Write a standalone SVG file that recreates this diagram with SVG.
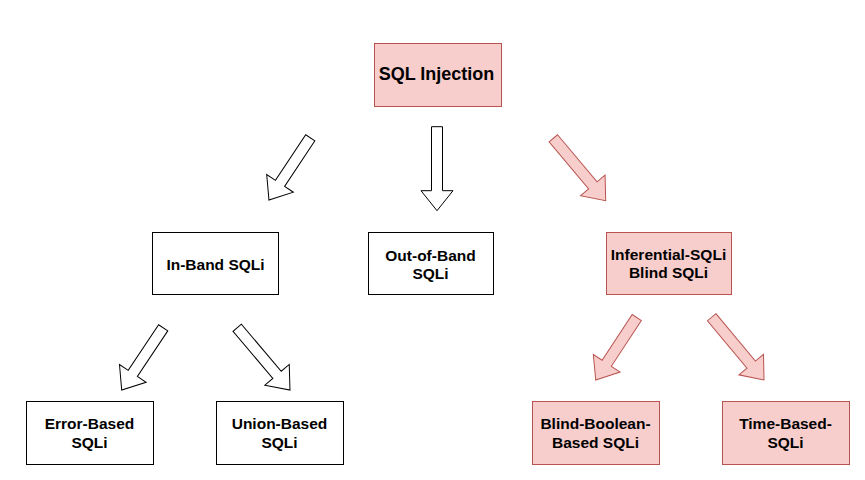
<svg xmlns="http://www.w3.org/2000/svg" width="865" height="480" viewBox="0 0 865 480">
<style>
.w{fill:#ffffff;stroke:#000000;stroke-width:1}
.p{fill:#f8cecc;stroke:#b85450;stroke-width:1}
.t{font-family:"Liberation Sans",Arial,sans-serif;font-weight:bold;font-size:15.5px;fill:#000000;text-anchor:middle}
.big{font-size:18px}
</style>
<rect width="865" height="480" fill="#ffffff"/>
<g id="connectors">
<polygon class="w" points="0,-5.5 54.7,-5.5 54.7,-16 74.7,0 54.7,16 54.7,5.5 0,5.5" transform="translate(310.3,137.8) rotate(123.6)"/>
<polygon class="w" points="0,-5.5 64,-5.5 64,-16 84,0 64,16 64,5.5 0,5.5" transform="translate(437,126.7) rotate(90)"/>
<polygon class="p" points="0,-5.5 61.5,-5.5 61.5,-16 81.5,0 61.5,16 61.5,5.5 0,5.5" transform="translate(553.3,138.3) rotate(50)"/>
<polygon class="w" points="0,-5.5 54.8,-5.5 54.8,-16 74.8,0 54.8,16 54.8,5.5 0,5.5" transform="translate(163.2,327.8) rotate(123.7)"/>
<polygon class="w" points="0,-5.5 61.6,-5.5 61.6,-16 81.6,0 61.6,16 61.6,5.5 0,5.5" transform="translate(237.2,327.8) rotate(49.7)"/>
<polygon class="p" points="0,-5.5 54.8,-5.5 54.8,-16 74.8,0 54.8,16 54.8,5.5 0,5.5" transform="translate(636.8,317.5) rotate(123.3)"/>
<polygon class="p" points="0,-5.5 61.7,-5.5 61.7,-16 81.7,0 61.7,16 61.7,5.5 0,5.5" transform="translate(711.7,317.2) rotate(50.2)"/>
</g>
<g id="sql-injection">
<rect class="p" x="374.5" y="43.5" width="127" height="63"/>
<text class="t big" x="436.5" y="79.5">SQL Injection</text>
</g>
<g id="in-band">
<rect class="w" x="152.5" y="232.5" width="126" height="62"/>
<text class="t" x="215.5" y="270">In-Band SQLi</text>
</g>
<g id="out-of-band">
<rect class="w" x="368.5" y="232.5" width="125" height="62"/>
<text class="t" x="430.5" y="260.5">Out-of-Band</text>
<text class="t" x="430.5" y="279">SQLi</text>
</g>
<g id="inferential">
<rect class="p" x="606.5" y="232.5" width="125" height="62"/>
<text class="t" x="668.5" y="259.5">Inferential-SQLi</text>
<text class="t" x="668.5" y="277.5">Blind SQLi</text>
</g>
<g id="error-based">
<rect class="w" x="26.5" y="401.5" width="127" height="63"/>
<text class="t" x="89.5" y="429">Error-Based</text>
<text class="t" x="89.5" y="448">SQLi</text>
</g>
<g id="union-based">
<rect class="w" x="216.5" y="401.5" width="127" height="63"/>
<text class="t" x="279.5" y="429">Union-Based</text>
<text class="t" x="279.5" y="448">SQLi</text>
</g>
<g id="blind-boolean">
<rect class="p" x="532.5" y="401.5" width="127" height="63"/>
<text class="t" x="595.5" y="429">Blind-Boolean-</text>
<text class="t" x="595.5" y="448">Based SQLi</text>
</g>
<g id="time-based">
<rect class="p" x="722.5" y="401.5" width="127" height="63"/>
<text class="t" x="785.5" y="429">Time-Based-</text>
<text class="t" x="785.5" y="448">SQLi</text>
</g>
</svg>
